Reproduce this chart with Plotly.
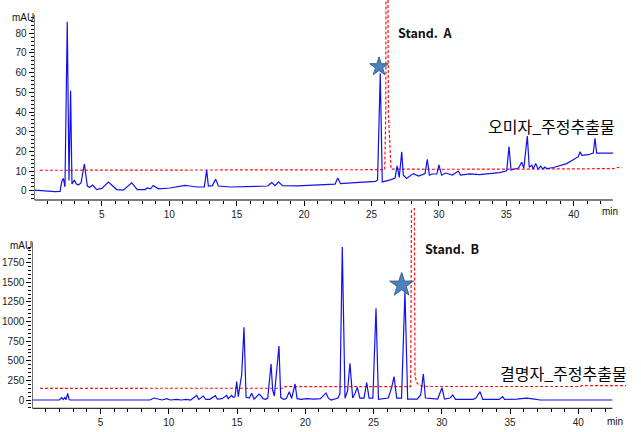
import plotly.graph_objects as go

# ---------------- data ----------------
# Top chromatogram: 오미자_주정추출물 (blue) and Stand. A (red)
top_blue_t = [0.0, 0.5, 1.0, 1.5, 1.9, 2.02, 2.14, 2.26, 2.43, 2.56, 2.68, 2.78, 2.96, 3.1, 3.25, 3.45, 3.70, 3.92, 4.1, 4.31,
              4.61, 5.0, 5.48, 6.1, 6.59, 7.21, 7.63, 8.2, 8.37, 8.6, 8.81, 9.19, 10.05, 10.55, 11.16, 11.53, 12.03, 12.6, 12.77, 12.9,
              13.2, 13.44, 13.64, 14.5, 15.5, 16.5, 17.3, 17.6, 17.85, 18.1, 18.4, 19.5, 20.5, 21.5, 22.3, 22.5, 22.7, 23.5, 24.5, 25.3,
              25.45, 25.65, 25.8, 26.0, 26.4, 26.75, 26.9, 27.06, 27.24, 27.36, 27.6, 28.1, 28.5, 28.97, 29.14, 29.29, 29.5, 29.85, 30.0, 30.2,
              30.5, 31.0, 31.44, 31.6, 32.3, 33.0, 33.5, 34.5, 35.03, 35.2, 35.35, 35.9, 36.14, 36.3, 36.56, 36.7, 36.9, 37.0, 37.18, 37.35,
              37.55, 37.7, 37.85, 38.0, 38.5, 39.48, 40.34, 40.47, 40.6, 41.08, 41.45, 41.58, 41.7, 42.93]
top_blue_v = [0.3, 0.0, -0.4, -0.4, -0.3, 4.6, 6.3, 2.0, 85.9, 5.2, 50.8, 3.4, 5.4, 3.5, 2.9, 4.0, 13.6, 2.4, 1.8, 2.9,
              0.6, 1.2, 4.4, 0.6, 0.3, 4.0, 0.6, 0.6, 1.4, 1.0, 2.7, 1.0, 1.4, 1.9, 2.7, 2.4, 1.9, 2.0, 10.5, 2.4,
              2.6, 5.9, 2.4, 1.9, 2.0, 2.1, 2.4, 4.2, 2.6, 4.5, 2.6, 2.5, 2.8, 3.0, 3.4, 6.5, 3.6, 4.0, 4.5, 4.8,
              5.5, 59.7, 4.5, 4.8, 5.5, 6.5, 12.6, 6.8, 19.8, 7.9, 6.2, 8.7, 7.5, 8.7, 15.9, 7.9, 8.5, 8.5, 13.1, 7.9,
              9.0, 8.0, 10.0, 8.0, 8.6, 8.2, 8.6, 9.2, 10.1, 22.4, 10.5, 11.5, 14.5, 11.5, 27.8, 11.9, 13.0, 11.0, 13.9, 11.0,
              12.5, 11.0, 12.0, 11.3, 11.8, 13.8, 17.3, 19.8, 18.0, 18.3, 19.1, 26.6, 19.1, 19.1]
top_red_t = [0.4, 10.0, 20.0, 25.98, 26.06, 26.09, 26.2, 26.25, 26.45, 30.0, 40.0, 43.15, 43.25, 43.6]
top_red_v = [10.4, 10.5, 10.6, 10.7, 40.0, 150.0, 150.0, 40.0, 11.0, 10.9, 11.1, 11.3, 11.8, 11.8]
top_star_t = [25.56]
top_star_v = [63.0]

# Bottom chromatogram: 결명자_주정추출물 (blue) and Stand. B (red)
bot_blue_t = [0, 1.98, 2.15, 2.27, 2.38, 2.48, 2.59, 2.7, 2.8, 8.62, 8.92, 9.23, 9.5, 9.84, 10.1, 10.6, 10.9, 11.3, 11.6, 12.04,
              12.2, 12.53, 12.7, 13.0, 13.41, 13.56, 13.9, 14.24, 14.36, 14.5, 14.6, 14.72, 14.85, 14.97, 15.09, 15.2, 15.34, 15.51, 15.66, 15.9,
              16.07, 16.25, 16.45, 16.61, 16.76, 16.9, 17.1, 17.25, 17.49, 17.61, 17.73, 17.9, 18.07, 18.2, 18.4, 18.6, 18.83, 19.0, 19.25, 19.4,
              19.7, 20.1, 20.6, 21.1, 21.32, 21.52, 21.7, 21.9, 22.4, 22.54, 22.71, 22.91, 23.1, 23.27, 23.47, 23.65, 23.81, 24.0, 24.3, 24.5,
              24.67, 24.95, 25.18, 25.36, 26.08, 26.33, 26.5, 26.7, 27.05, 27.3, 27.5, 28.2, 28.45, 28.65, 28.8, 29.7, 30.01, 30.2, 30.6, 30.8,
              31.0, 32.3, 32.5, 32.8, 33.0, 34.2, 34.46, 34.6, 35.5, 36.2, 36.8, 37.2, 42.5]
bot_blue_v = [0, 0, 29, 5, 34, 5, 85, 5, 0, 0, 25, 8, 0, 17, 0, 8, 0, 8, 0, 59,
              8, 51, 8, 8, 55, 10, 17, 59, 17, 42, 59, 34, 42, 234, 42, 170, 319, 926, 34, 25,
              85, 10, 42, 76, 51, 17, 8, 25, 459, 127, 51, 340, 688, 34, 8, 17, 106, 20, 204, 17,
              8, 17, 12, 17, 51, 90, 20, 0, 25, 85, 1950, 21, 120, 467, 25, 85, 161, 25, 25, 221,
              25, 25, 1168, 8, 25, 160, 297, 25, 25, 1381, 10, 12, 64, 331, 25, 12, 157, 12, 25, 64,
              8, 8, 25, 106, 8, 8, 42, 8, 12, 25, 12, 0, 0]
bot_red_t = [0.56, 2.2, 2.6, 3.0, 3.4, 3.8, 4.0, 18.4, 18.5, 27.72, 27.82, 27.95, 28.04, 28.2, 28.5, 29.0, 40.1, 40.25, 43.5]
bot_red_v = [149, 149, 155, 150, 156, 150, 149, 150, 170, 170, 4000, 4000, 297, 210, 180, 172, 172, 182, 182]
bot_star_t = [27.06]
bot_star_v = [1466]

top_yticks = [0, 10, 20, 30, 40, 50, 60, 70, 80]
bot_yticks = [0, 250, 500, 750, 1000, 1250, 1500, 1750]
x_ticks = [5, 10, 15, 20, 25, 30, 35, 40]

# ---------------- layout helpers (pixel geometry) ----------------
W, H = 641, 432
def fx(p):
    return p / W
def fy(p):
    return 1 - p / H

BLUE = "#1010f0"
RED = "#ff1010"
STAR = "#4f81bd"
TICKFONT = dict(family="Liberation Sans, Arial, sans-serif", size=10, color="#222222")

fig = go.Figure()
fig.add_trace(go.Scatter(x=top_red_t, y=top_red_v, mode="lines", xaxis="x", yaxis="y",
                         line=dict(color=RED, width=1.2, dash="3px,2px"), hoverinfo="skip"))
fig.add_trace(go.Scatter(x=top_blue_t, y=top_blue_v, mode="lines", xaxis="x", yaxis="y",
                         line=dict(color=BLUE, width=1.2), hoverinfo="skip"))
fig.add_trace(go.Scatter(x=top_star_t, y=top_star_v, mode="markers", xaxis="x", yaxis="y", cliponaxis=False,
                         marker=dict(symbol="star", size=14, color=STAR, line=dict(color="#3a6592", width=1))))
fig.add_trace(go.Scatter(x=bot_red_t, y=bot_red_v, mode="lines", xaxis="x2", yaxis="y2",
                         line=dict(color=RED, width=1.2, dash="3px,2px"), hoverinfo="skip"))
fig.add_trace(go.Scatter(x=bot_blue_t, y=bot_blue_v, mode="lines", xaxis="x2", yaxis="y2",
                         line=dict(color=BLUE, width=1.2), hoverinfo="skip"))
fig.add_trace(go.Scatter(x=bot_star_t, y=bot_star_v, mode="markers", xaxis="x2", yaxis="y2", cliponaxis=False,
                         marker=dict(symbol="star", size=18, color=STAR, line=dict(color="#3a6592", width=1))))

top_x_end = 42.9
bot_x_end = 42.5
top_y_rng = [-4.7, 96.9]
bot_y_rng = [-105.8, 2447]
top_y_top = 89.3
bot_y_top = 2017

def xax(domain, anchor):
    return dict(domain=domain, anchor=anchor, range=[0, 43.6], showline=False, showgrid=False, zeroline=False,
                tickmode="array", tickvals=x_ticks, ticks="outside", ticklen=5, tickwidth=1, tickcolor="black",
                tickfont=TICKFONT, fixedrange=True,
                minor=dict(tickmode="array", tickvals=[v for v in range(1, 43) if v % 5], ticks="outside",
                           ticklen=3, tickwidth=1, tickcolor="black"))

def yax(domain, anchor, rng, ticks, minor_vals):
    return dict(domain=domain, anchor=anchor, range=rng, showline=False, showgrid=False, zeroline=False,
                tickmode="array", tickvals=ticks, ticks="outside", ticklen=5, tickwidth=1, tickcolor="black",
                tickfont=TICKFONT, fixedrange=True,
                minor=dict(tickmode="array", tickvals=minor_vals, ticks="outside", ticklen=3, tickwidth=1,
                           tickcolor="black"))

fig.update_layout(
    width=W, height=H, autosize=False, showlegend=False,
    margin=dict(l=0, r=0, t=0, b=0),
    paper_bgcolor="white", plot_bgcolor="white",
    xaxis=xax([fx(34.5), fx(34.5 + 43.6 * 13.48)], "y"),
    yaxis=yax([fy(200), 1.0], "x", top_y_rng, top_yticks, [v for v in range(-4, 89, 2) if v % 10]),
    xaxis2=xax([fx(32.3), fx(32.3 + 43.6 * 13.65)], "y2"),
    yaxis2=yax([fy(408.3), fy(208)], "x2", bot_y_rng, bot_yticks, [v for v in range(-100, 2001, 50) if v % 250]),
)

line = dict(color="black", width=1)
fig.add_shape(type="line", xref="x", yref="y", x0=0, x1=0, y0=top_y_rng[0], y1=top_y_top, line=line)
fig.add_shape(type="line", xref="x", yref="y domain", x0=0, x1=top_x_end, y0=0, y1=0, line=line)
fig.add_shape(type="line", xref="x2", yref="y2", x0=0, x1=0, y0=bot_y_rng[0], y1=bot_y_top, line=line)
fig.add_shape(type="line", xref="x2", yref="y2 domain", x0=0, x1=bot_x_end, y0=0, y1=0, line=line)

def ann(text, x, y, size, bold=False, family="Noto Sans CJK KR", color="#111111"):
    fig.add_annotation(text=("<b>%s</b>" % text) if bold else text, xref="paper", yref="paper",
                       x=fx(x), y=fy(y), showarrow=False, xanchor="center", yanchor="middle",
                       font=dict(family=family, size=size, color=color))

ann("mAU", 23, 18, 10, family="Liberation Sans, Arial, sans-serif")
ann("mAU", 21, 245, 10, family="Liberation Sans, Arial, sans-serif")
ann("min", 610, 212, 10, family="Liberation Sans, Arial, sans-serif")
ann("min", 615, 421, 10, family="Liberation Sans, Arial, sans-serif")
ann("Stand.&nbsp; A", 425, 33, 12.5, bold=True)
ann("Stand.&nbsp; B", 452, 248, 12.5, bold=True)
ann("오미자_주정추출물", 551, 126, 16, color="#000000")
ann("결명자_주정추출물", 563, 373, 16, color="#000000")

fig.write_html("out.html", config={"displayModeBar": False, "staticPlot": True},
               post_script="document.body.style.margin='0px';document.body.style.overflow='hidden';")
